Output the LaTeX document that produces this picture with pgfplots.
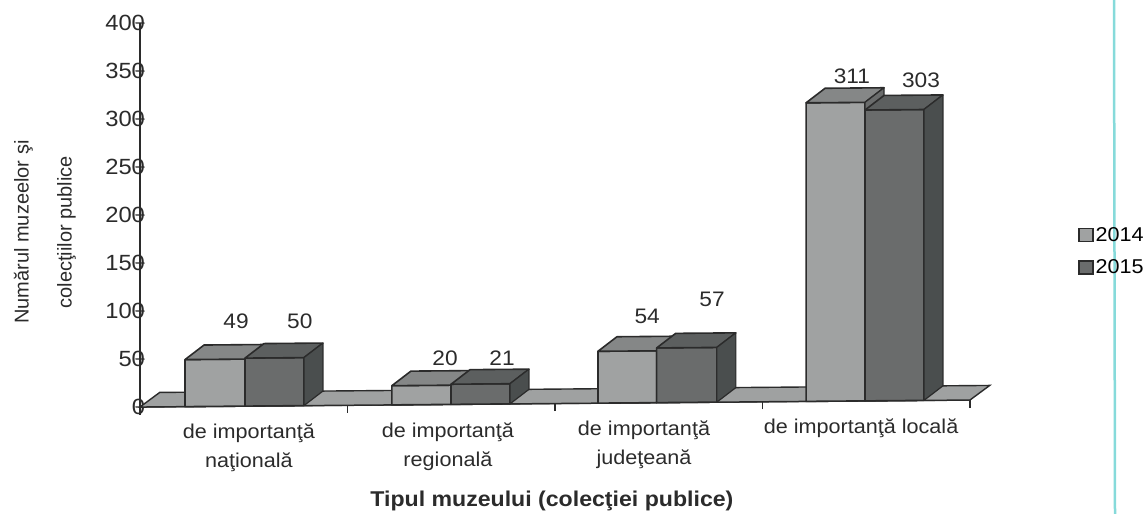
\documentclass[border=0pt]{standalone}
\usepackage{pgfplots}
\pgfplotsset{compat=1.18}
\usepackage{fontspec}
\setmainfont[FakeStretch=1.08]{Liberation Sans}
\newfontfamily\ylabfont{Liberation Sans}
\definecolor{ink}{HTML}{2B2B2B}
\definecolor{floorc}{HTML}{9FA1A1}
\definecolor{fA}{HTML}{A0A2A2}
\definecolor{tA}{HTML}{858787}
\definecolor{sA}{HTML}{6A6C6C}
\definecolor{fB}{HTML}{6A6C6C}
\definecolor{tB}{HTML}{5C5F5F}
\definecolor{sB}{HTML}{4A4E4E}
\definecolor{scanline}{HTML}{86DADA}
\newcommand{\dx}{0.0916}
\newcommand{\dy}{15}
% \boxbar{x0}{x1}{value}{front}{top}{side}
\newcommand{\boxbar}[6]{%
  \pgfmathsetmacro{\xa}{#1+\dx}\pgfmathsetmacro{\xb}{#2+\dx}\pgfmathsetmacro{\yt}{#3+\dy}%
  \edef\tmp{\noexpand\addplot[forget plot,fill=#4,draw=ink,line width=1.6pt,line join=round] coordinates {(#1,0)(#1,#3)(#2,#3)(#2,0)} --cycle;
  \noexpand\addplot[forget plot,fill=#5,draw=ink,line width=1.6pt,line join=round] coordinates {(#1,#3)(\xa,\yt)(\xb,\yt)(#2,#3)} --cycle;
  \noexpand\addplot[forget plot,fill=#6,draw=ink,line width=1.2pt,line join=round] coordinates {(#2,0)(#2,#3)(\xb,\yt)(\xb,\dy)} --cycle;}\tmp}
\begin{document}
\begin{tikzpicture}
\path[use as bounding box] (0pt,0pt) rectangle (1144pt,-514pt);
\draw[color=scanline,line width=2.5pt] (1114pt,0pt) -- (1115pt,-514pt);
\begin{axis}[
  at={(140pt,-407pt)},anchor=origin,
  x={(207.5pt,1.75pt)},y={(0pt,0.96pt)},
  xmin=0,xmax=4,ymin=0,ymax=400,
  axis lines=left,axis line style={-,ink,line width=1.6pt},
  clip=false,
  font=\fontsize{20}{24}\selectfont,
  tick align=center,
  tick style={ink,line width=1.4pt},
  major tick length=9pt,minor tick length=9pt,
  ytick={0,50,100,150,200,250,300,350,400},
  xtick={0.525,1.484,2.429,3.475},
  x tick style={draw=none},
  minor xtick={0,1,2,3,4},
  minor x tick style={draw=ink,line width=1.4pt,yshift=-3pt},
  xticklabels={{de importanţă\\[5pt]naţională},{de importanţă\\[5pt]regională},{de importanţă\\[5pt]judeţeană},{de importanţă locală}},
  xticklabel style={align=center,anchor=north,text=ink,yshift=-10pt},
  yticklabel style={anchor=east,text=ink,xshift=13pt,font=\fontsize{22}{26}\selectfont},
  /pgf/number format/assume math mode=true,
  every axis x label/.style={at={(axis cs:1.985,-101)},anchor=center},
  xlabel={\fontsize{21.4}{25}\selectfont\bfseries Tipul muzeului (colecţiei publice)},
  every axis y label/.style={at={(axis cs:-0.459,183)},anchor=center,rotate=90},
  ylabel={Numărul muzeelor şi\\[19pt]colecţiilor publice},
  ylabel style={align=center,text=ink,font=\ylabfont\fontsize{20}{24}\selectfont},
  xlabel style={text=ink},
  legend style={at={(axis cs:4.52,154)},anchor=west,draw=none,fill=none,font=\fontsize{20}{24}\selectfont,row sep=13pt,inner sep=0pt,/tikz/every even column/.append style={column sep=3pt}},
  legend cell align=left,
  legend image code/.code={\draw[#1,line width=1.6pt] (0pt,-6.5pt) rectangle (14pt,6.5pt);},
]
% floor
\addplot[forget plot,fill=floorc,draw=ink,line width=1.4pt] coordinates {(0,0)(0.095,15)(4.095,15)(4,0)} --cycle;
% group 1
\boxbar{0.217}{0.506}{49}{fA}{tA}{sA}
\boxbar{0.506}{0.790}{50}{fB}{tB}{sB}
% group 2
\boxbar{1.214}{1.499}{20}{fA}{tA}{sA}
\boxbar{1.499}{1.783}{21}{fB}{tB}{sB}
% group 3
\boxbar{2.207}{2.490}{54}{fA}{tA}{sA}
\boxbar{2.490}{2.780}{57}{fB}{tB}{sB}
% group 4
\boxbar{3.210}{3.494}{311}{fA}{tA}{sA}
\boxbar{3.494}{3.778}{303}{fB}{tB}{sB}
% legend entries
\addlegendimage{fill=fA,draw=ink}
\addlegendentry{2014}
\addlegendimage{fill=fB,draw=ink}
\addlegendentry{2015}
% data labels
\begin{scope}[every node/.append style={font=\fontsize{21}{25}\selectfont,text=ink}]
\node at (axis cs:0.463,88.7) {49};
\node at (axis cs:0.770,88.2) {50};
\node at (axis cs:1.470,48.4) {20};
\node at (axis cs:1.745,47.9) {21};
\node at (axis cs:2.444,90.3) {54};
\node at (axis cs:2.757,107.5) {57};
\node at (axis cs:3.431,338.5) {311};
\node at (axis cs:3.764,333.7) {303};
\end{scope}
\end{axis}
\end{tikzpicture}
\end{document}
